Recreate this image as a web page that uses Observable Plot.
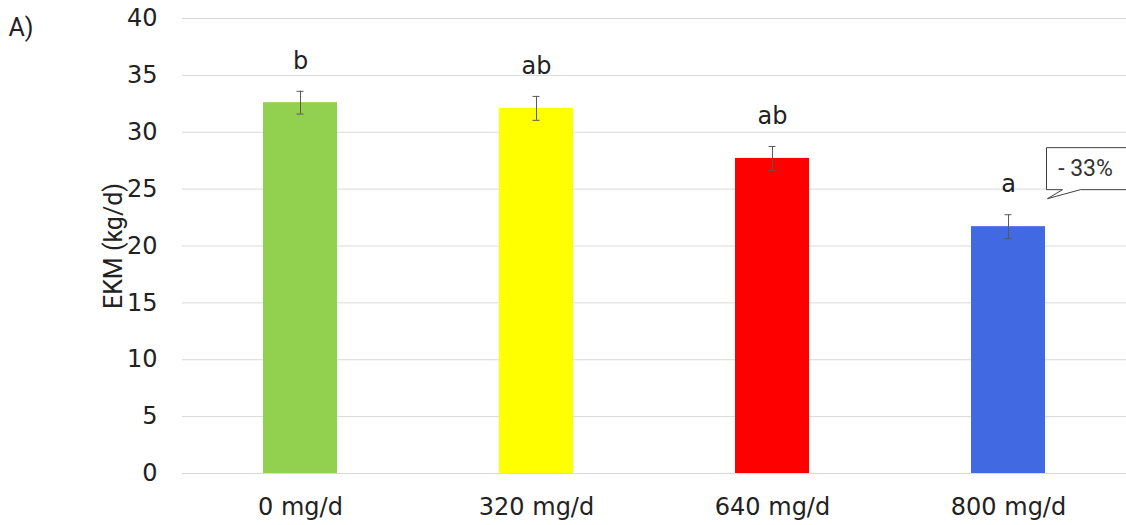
<!DOCTYPE html>
<html>
<head>
<meta charset="utf-8">
<script src="https://cdn.jsdelivr.net/npm/d3@7"></script>
<script src="https://cdn.jsdelivr.net/npm/@observablehq/plot@0.6"></script>
<style>
  html, body { margin: 0; padding: 0; background: #fff; }
  #chart { width: 1126px; height: 525px; }
</style>
</head>
<body>
<div id="chart"></div>
<script>
const categories = ["0 mg/d", "320 mg/d", "640 mg/d", "800 mg/d"];
const values = [32.6, 32.1, 27.7, 21.7];
const errors = [1.0, 1.05, 1.05, 1.05];
const letters = ["b", "ab", "ab", "a"];
const colors = ["#92d050", "#ffff00", "#ff0000", "#4169e1"];
const yTicks = [0, 5, 10, 15, 20, 25, 30, 35, 40];
const yLabel = "EKM (kg/d)";
const panelLabel = "A)";
const calloutLabel = "- 33%";
const calloutCategory = "800 mg/d";

const data = categories.map((c, i) => ({
  cat: c, value: values[i], err: errors[i], letter: letters[i], color: colors[i]
}));
const calloutData = [{
  cat: calloutCategory,
  value: values[categories.indexOf(calloutCategory)],
  label: calloutLabel
}];

const ERR = "#595959";

const chart = Plot.plot({
  width: 1126,
  height: 525,
  marginLeft: 182,
  marginRight: 0,
  marginTop: 18,
  marginBottom: 52,
  style: { fontFamily: "DejaVu Sans", fontSize: "24px", color: "#222", background: "#fff" },
  x: { domain: categories, paddingInner: 0.686, paddingOuter: 0.343, label: null },
  y: { domain: [0, 40], label: null },
  color: { type: "identity" },
  marks: [
    Plot.gridY(yTicks, { stroke: "#d9d9d9", strokeOpacity: 1, strokeWidth: 1 }),
    Plot.barY(data, { x: "cat", y: "value", fill: "color" }),
    Plot.ruleX(data, { x: "cat", y1: d => d.value - d.err, y2: d => d.value + d.err, stroke: ERR, strokeWidth: 1 }),
    Plot.tickY(data, { x: "cat", y: d => d.value + d.err, stroke: ERR, insetLeft: 33.5, insetRight: 33.5 }),
    Plot.tickY(data, { x: "cat", y: d => d.value - d.err, stroke: ERR, insetLeft: 33.5, insetRight: 33.5 }),
    Plot.text(data, { x: "cat", y: d => d.value + d.err, text: "letter", dy: -30, fontSize: 24, fill: "#222", fontFamily: "DejaVu Sans" }),
    Plot.axisY(yTicks, { tickSize: 0, tickPadding: 25, fontSize: 24, label: null }),
    Plot.axisX({ tickSize: 0, tickPadding: 24, fontSize: 24, label: null }),
    Plot.text([yLabel], { frameAnchor: "left", textAnchor: "middle", rotate: -90, dx: -69, fontSize: 25, fontFamily: "Roboto", fill: "#222" }),
    Plot.text([panelLabel], { frameAnchor: "top-left", textAnchor: "start", lineAnchor: "top", dx: -174, dy: 0, fontSize: 25, fontFamily: "Roboto", fill: "#222" }),
    Plot.text(calloutData, {
      x: "cat", y: "value", text: "label", dx: 77, dy: -58,
      fontSize: 23, fontFamily: "Roboto", fill: "#333",
      render(index, scales, vals, dimensions, context, next) {
        const g = next(index, scales, vals, dimensions, context);
        for (const i of index) {
          const cx = vals.x ? vals.x[i] : 0;
          const cy = vals.y ? vals.y[i] : 0;
          const L = cx - 39, R = cx + 43, T = cy - 21, B = cy + 21;
          const p = document.createElementNS("http://www.w3.org/2000/svg", "path");
          p.setAttribute("d", `M${L},${T}H${R}V${B}H${L + 34}L${L + 1},${B + 9}L${L + 16},${B}H${L}Z`);
          p.setAttribute("fill", "#fff");
          p.setAttribute("stroke", "#404040");
          p.setAttribute("stroke-width", "1");
          g.insertBefore(p, g.firstChild);
        }
        return g;
      }
    })
  ]
});
document.getElementById("chart").appendChild(chart);
</script>
</body>
</html>
